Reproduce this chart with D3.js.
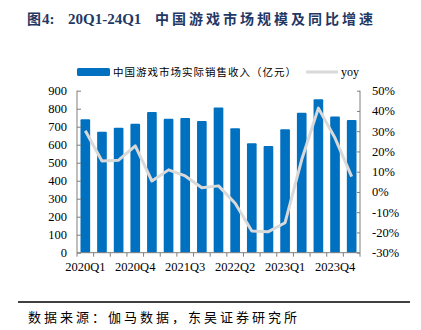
<!DOCTYPE html>
<html><head><meta charset="utf-8">
<script src="https://cdn.jsdelivr.net/npm/d3@7"></script>
<style>body{margin:0;background:#fff}svg{display:block}</style>
</head><body>
<svg id="c" width="421" height="330"></svg>
<script>
const quarters = ["2020Q1","2020Q2","2020Q3","2020Q4","2021Q1","2021Q2","2021Q3","2021Q4","2022Q1","2022Q2","2022Q3","2022Q4","2023Q1","2023Q2","2023Q3","2023Q4","2024Q1"];
const revenue = [741,672,694,717,782,744,748,732,806,691,608,593,686,778,852,756,737];
const yoy = [30.2,15.3,15.7,22.8,5.4,10.9,7.9,2.1,3.0,-5.6,-19.3,-19.6,-15.2,16,41.4,26.6,7.6];
const leftTicks = [0,100,200,300,400,500,600,700,800,900];
const rightTicks = [-30,-20,-10,0,10,20,30,40,50];
const xLabels = ["2020Q1","2020Q4","2021Q3","2022Q2","2023Q1","2023Q4"];

const svg = d3.select("#c");
const m = {l:77, r:360, t:90.7, b:252.7};
const x = d3.scaleBand().domain(quarters).range([m.l, m.r]).paddingInner(0.42).paddingOuter(0.21);
const yL = d3.scaleLinear().domain([0,900]).range([m.b, m.t]);
const yR = d3.scaleLinear().domain([-30,50]).range([m.b, m.t]);
const serif = "'Liberation Serif','Times New Roman',serif";
const cjk = "'Noto Sans CJK SC',sans-serif";

// title
const tc = "#1F3864";
svg.append("text").attr("x",27).attr("y",24).attr("font-family",cjk).attr("font-weight","bold")
  .attr("font-size",14).attr("fill",tc).text("图");
svg.append("text").attr("x",42).attr("y",24).attr("font-family",serif).attr("font-weight","bold")
  .attr("font-size",15).attr("fill",tc).text("4:");
svg.append("text").attr("x",68).attr("y",24).attr("font-family",serif).attr("font-weight","bold")
  .attr("font-size",15).attr("fill",tc).text("20Q1-24Q1");
svg.append("text").attr("x",155).attr("y",24).attr("font-family",cjk).attr("font-weight","bold")
  .attr("font-size",14).attr("letter-spacing",3).attr("fill",tc).text("中国游戏市场规模及同比增速");

// bars
svg.append("g").selectAll("rect").data(revenue).join("rect")
  .attr("x",(d,i)=>x(quarters[i])).attr("width",x.bandwidth())
  .attr("y",d=>yL(d)).attr("height",d=>m.b-yL(d)).attr("fill","#0070C0")
  .attr("rx",1);

// line
svg.append("path").datum(yoy)
  .attr("d", d3.line().x((d,i)=>x(quarters[i])+x.bandwidth()/2).y(d=>yR(d)))
  .attr("fill","none").attr("stroke","#D9D9D9").attr("stroke-width",3).attr("stroke-linejoin","round");

// axes
const axCol = "#7F7F7F";
const gl = svg.append("g").attr("transform",`translate(${m.l},0)`)
  .call(d3.axisLeft(yL).tickValues(leftTicks).tickSize(-4).tickPadding(10));
const gr = svg.append("g").attr("transform",`translate(${m.r},0)`)
  .call(d3.axisRight(yR).tickValues(rightTicks).tickSize(-3).tickPadding(12).tickFormat(d=>d+"%"));
const gx = svg.append("g").attr("transform",`translate(0,${m.b})`)
  .call(d3.axisBottom(x).tickValues(xLabels).tickSize(0).tickPadding(9));
svg.append("g").selectAll("line").data(d3.range(quarters.length+1)).join("line")
  .attr("x1",i=>m.l+i*x.step()).attr("x2",i=>m.l+i*x.step())
  .attr("y1",m.b).attr("y2",m.b+4).attr("stroke",axCol);
[gl,gr,gx].forEach(g=>{
  g.selectAll(".domain").attr("stroke",axCol);
  g.selectAll(".tick line").attr("stroke",axCol);
  g.selectAll("text").attr("font-family",serif).attr("font-size",12.5).attr("fill","#000");
});
gl.select(".domain").attr("d",`M0,${m.t}V${m.b}`);
gr.select(".domain").attr("d",`M0,${m.t}V${m.b}`);
gx.select(".domain").attr("d",`M${m.l},0H${m.r}`);

// legend
svg.append("rect").attr("x",77).attr("y",68).attr("width",33).attr("height",8).attr("rx",1.5).attr("fill","#0070C0");
svg.append("text").attr("x",113).attr("y",76).attr("font-family",cjk).attr("font-size",10.5).attr("letter-spacing",1)
  .text("中国游戏市场实际销售收入（亿元）");
svg.append("line").attr("x1",306).attr("x2",338).attr("y1",72).attr("y2",72).attr("stroke","#D9D9D9").attr("stroke-width",3);
svg.append("text").attr("x",341).attr("y",76).attr("font-family",serif).attr("font-size",12).text("yoy");

// footer
svg.append("line").attr("x1",18).attr("x2",410).attr("y1",302).attr("y2",302).attr("stroke","#000").attr("stroke-width",1.5);
svg.append("text").attr("x",28).attr("y",322).attr("font-family",cjk).attr("font-size",13).attr("letter-spacing",3)
  .text("数据来源：伽马数据，东吴证券研究所");
</script>
</body></html>
